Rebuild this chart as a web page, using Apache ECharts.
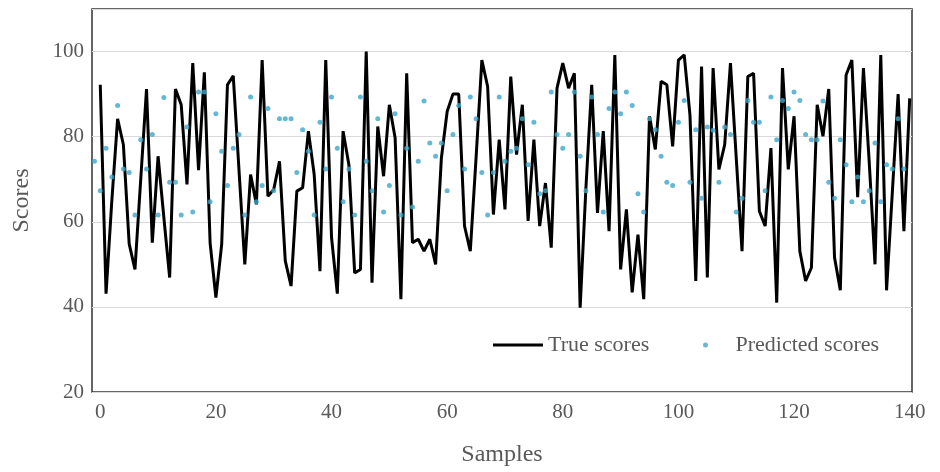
<!DOCTYPE html>
<html>
<head>
<meta charset="utf-8">
<script src="https://cdn.jsdelivr.net/npm/echarts@6/dist/echarts.min.js"></script>
<style>
  html, body { margin: 0; padding: 0; background: #fff; }
  #main { width: 940px; height: 472px; }
</style>
</head>
<body>
<div id="main"></div>
<script>
// true scores, samples 0..140
var trueScores = [
  92.2, 43.1, 65, 84.2, 78.1, 54.8, 48.8, 70, 91.2, 55.1,
  75.4, 61, 46.9, 91.2, 87.5, 68.8, 97.3, 72.1, 95.1, 55,
  42.2, 54.7, 92.2, 94.3, 72, 50, 71.1, 64.1, 98, 66,
  67.6, 74.2, 50.8, 44.9, 67.2, 68, 81.3, 71.1, 48.4, 98,
  56.3, 43.1, 81.3, 73.4, 48, 48.8, 100, 45.7, 82.4, 70.7,
  87.5, 79.7, 41.8, 94.9, 55.1, 55.9, 53.1, 55.9, 50, 75,
  85.9, 90, 90, 59, 53.1, 75, 98, 91.8, 61.7, 79.3,
  62.9, 94.1, 75.8, 87.5, 60.2, 79.3, 59, 69.1, 53.9, 91.4,
  97.3, 91.4, 94.9, 39.8, 68, 92.2, 62.1, 81.3, 57.8, 99.2,
  48.8, 62.9, 43.4, 57, 41.8, 84.8, 77, 93, 92.2, 77.7,
  98, 99.2, 85, 46.1, 96.5, 46.9, 96.1, 72.3, 78.1, 97.3,
  75, 53.1, 94.1, 94.9, 62.5, 59, 77.3, 41, 96.1, 72.3,
  84.8, 53.1, 46.1, 49.2, 87.5, 80.1, 91.2, 51.6, 43.9, 94.5,
  98, 65.8, 96.1, 74, 50, 99.2, 43.9, 67, 90, 57.8,
  89
];
var trueStart = 0;

// predicted scores, samples -1..139
var predictedScores = [
  74.2, 67.3, 77.3, 70.5, 87.3, 72.4, 71.6, 61.6, 79.3, 72.4,
  80.5, 61.6, 89.2, 69.3, 69.3, 61.6, 82.3, 62.3, 90.5, 90.5,
  64.7, 85.4, 76.6, 68.5, 77.3, 80.5, 61.6, 89.3, 64.7, 68.5,
  86.6, 67.3, 84.2, 84.2, 84.2, 71.6, 81.6, 76.6, 61.6, 83.4,
  72.4, 89.3, 77.3, 64.7, 72.4, 61.6, 89.3, 74.2, 67.3, 84.2,
  62.3, 68.5, 85.4, 61.6, 77.3, 63.5, 74.2, 88.4, 78.5, 75.4,
  78.5, 67.3, 80.5, 87.3, 72.4, 89.3, 84.2, 71.6, 61.6, 71.6,
  89.3, 74.2, 76.6, 77.3, 84.2, 73.4, 83.4, 66.6, 67.3, 90.5,
  80.5, 77.3, 80.5, 90.5, 75.4, 67.3, 89.3, 80.5, 62.3, 86.6,
  90.5, 85.4, 90.5, 87.3, 66.6, 62.3, 84.2, 81.6, 75.4, 69.3,
  68.5, 83.4, 88.5, 69.3, 81.6, 65.5, 82.3, 81.5, 69.3, 82.3,
  80.5, 62.3, 65.5, 88.5, 83.4, 83.4, 67.3, 89.3, 79.3, 88.5,
  86.6, 90.5, 88.5, 80.5, 79.3, 79.3, 88.4, 69.3, 65.5, 79.3,
  73.4, 64.7, 70.5, 64.7, 67.3, 78.5, 64.7, 73.4, 72.4, 84.2,
  72.4
];
var predictedStart = -1;

var xTicks = [0, 20, 40, 60, 80, 100, 120, 140];
var yTicks = [20, 40, 60, 80, 100];

var seriesNames = ['True scores', 'Predicted scores'];

var textColor = '#595959';
var fontName = 'Liberation Serif';

function toPoints(values, start) {
  return values.map(function (v, i) { return [start + i, v]; });
}

var myChart = echarts.init(document.getElementById('main'));
myChart.setOption({
  animation: false,
  backgroundColor: '#fff',
  grid: {
    left: 92,
    right: 28,
    top: 9,
    bottom: 79,
    show: true,
    borderColor: '#333',
    borderWidth: 1.5
  },
  legend: [{
    data: [seriesNames[0]],
    left: 493,
    top: 334,
    padding: 0,
    icon: 'rect',
    itemWidth: 50,
    itemHeight: 3,
    textStyle: { color: textColor, fontFamily: fontName, fontSize: 22 }
  }, {
    data: [seriesNames[1]],
    left: 703,
    top: 334,
    padding: 0,
    icon: 'circle',
    itemWidth: 50,
    itemHeight: 5,
    textStyle: { color: textColor, fontFamily: fontName, fontSize: 22 }
  }],
  xAxis: {
    type: 'value',
    min: -1.43,
    max: 140.4,
    name: 'Samples',
    nameLocation: 'middle',
    nameGap: 51,
    nameTextStyle: { color: textColor, fontFamily: fontName, fontSize: 24 },
    axisLine: { show: false },
    axisTick: { show: false },
    splitLine: { show: false },
    axisLabel: {
      customValues: xTicks,
      margin: 10,
      color: textColor,
      fontFamily: fontName,
      fontSize: 21
    }
  },
  yAxis: {
    type: 'value',
    min: 20,
    max: 110,
    interval: 20,
    name: 'Scores',
    nameLocation: 'middle',
    nameGap: 58,
    nameTextStyle: { color: textColor, fontFamily: fontName, fontSize: 24 },
    axisLine: { show: false },
    axisTick: { show: false },
    splitLine: { show: true, lineStyle: { color: '#d9d9d9', width: 1 } },
    axisLabel: {
      customValues: yTicks,
      margin: 8,
      color: textColor,
      fontFamily: fontName,
      fontSize: 21
    }
  },
  series: [{
    name: seriesNames[0],
    type: 'line',
    data: toPoints(trueScores, trueStart),
    showSymbol: false,
    symbol: 'none',
    lineStyle: { color: '#000', width: 3 },
    itemStyle: { color: '#000' },
    z: 2
  }, {
    name: seriesNames[1],
    type: 'scatter',
    data: toPoints(predictedScores, predictedStart),
    symbolSize: 5,
    itemStyle: { color: '#3fa6c8' },
    z: 3
  }]
});
</script>
</body>
</html>
